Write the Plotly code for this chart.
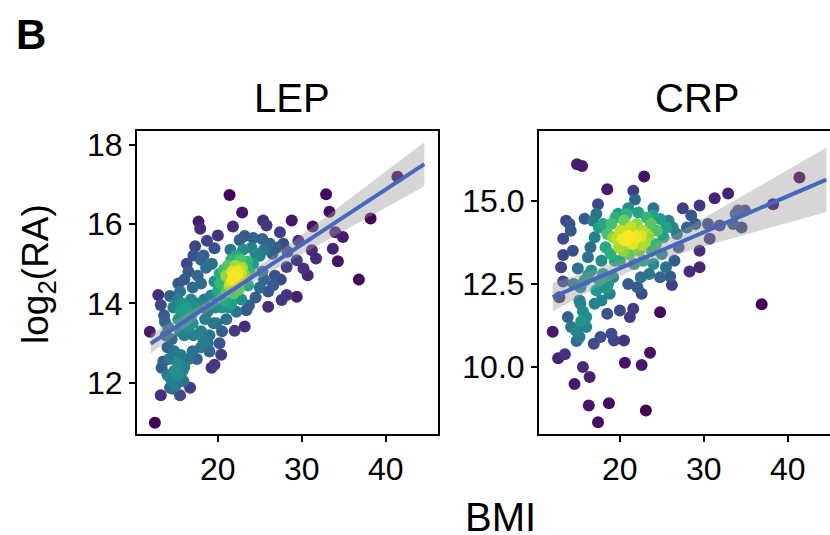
import numpy as np
import plotly.graph_objects as go

# ---------------- data ----------------
BMI_RANGE = [12.0, 44.6]          # BMI range of the cohort (shared x scale)

lep_points = [
    # sparse points
    (12.5, 11.0), (13.2, 11.69), (15.5, 11.69), (11.9, 13.29), (12.9, 14.21), (13.2, 13.96),
    (14.3, 14.19), (15.3, 14.5), (21.4, 16.73), (22.9, 16.29), (21.8, 15.94), (17.7, 16.06),
    (17.9, 15.88), (20.0, 15.71), (18.7, 15.58), (17.3, 15.44), (19.6, 15.39), (17.1, 15.21),
    (18.3, 15.21), (25.4, 16.09), (25.8, 15.96), (28.8, 16.09), (27.4, 15.79), (31.3, 15.94),
    (32.9, 16.75), (33.3, 16.31), (38.2, 16.14), (41.4, 17.19), (36.8, 14.6), (34.3, 15.06),
    (28.2, 14.21), (29.4, 14.17), (27.6, 14.09), (26.0, 13.92), (23.4, 13.83), (23.2, 13.42),
    (22.0, 13.31), (22.2, 13.79), (19.25, 12.38), (19.6, 12.46), (20.4, 12.71), (19.0, 12.79),
    (16.7, 11.88), (15.9, 12.04), (14.3, 11.88), (13.5, 12.54), (13.3, 12.38), (13.7, 13.54),
    # moderately dense
    (33.7, 15.38), (34.9, 15.67), (34.0, 15.79), (31.2, 15.34), (31.7, 15.13), (30.7, 14.71),
    (30.2, 14.88), (29.4, 15.09), (29.6, 15.58), (28.2, 14.92), (26.6, 14.46), (25.0, 14.4),
    (24.5, 14.15), (25.5, 14.6), (21.6, 14.0), (22.8, 14.1), (23.7, 13.95), (24.2, 15.65),
    (23.2, 15.7), (22.6, 15.6), (25.3, 15.62),
    (14.0, 12.2), (14.4, 12.1), (14.8, 12.3), (14.2, 12.6), (14.8, 12.8), (15.2, 12.5),
    (15.6, 12.7), (16.0, 12.4), (16.5, 12.6), (17.0, 12.8), (17.5, 12.6), (18.0, 12.9),
    (18.8, 13.0), (14.0, 12.9), (13.8, 13.2), (14.5, 13.1), (15.0, 11.95), (14.6, 11.85),
    (15.3, 12.2), (15.8, 12.3),
    (15.5, 14.3), (16.0, 14.6), (16.5, 14.8), (17.0, 14.4), (17.6, 14.7), (16.3, 15.0),
    (18.0, 14.5), (18.6, 14.9), (19.3, 15.0), (16.8, 14.1), (18.0, 15.1),
    (13.6, 13.7), (14.1, 13.4), (14.7, 13.9), (15.2, 14.1),
    (20.5, 13.3), (21.0, 13.6), (20.2, 13.0), (21.3, 13.9), (19.8, 13.5),
    # cluster around BMI 16
    (15.3, 13.6), (15.6, 13.8), (15.9, 13.5), (16.2, 13.9), (16.5, 13.4), (16.8, 13.7),
    (15.5, 13.3), (16.0, 13.2), (17.0, 13.5), (17.3, 13.9), (15.8, 14.0),
    (16.1, 13.75), (17.1, 13.2),
    (18.0, 13.3), (18.5, 13.6), (19.0, 13.2), (19.5, 13.5), (18.3, 13.05), (18.8, 13.8),
    (19.7, 13.9), (17.7, 14.0), (18.4, 14.1), (19.2, 14.2),
    # densest cluster around BMI 22
    (20.0, 14.3), (20.3, 14.5), (20.6, 14.2), (21.0, 14.7), (21.4, 14.45), (21.8, 14.6),
    (22.0, 14.65), (22.3, 14.8), (22.6, 14.55), (22.9, 14.9), (23.2, 14.7), (21.2, 14.95),
    (20.7, 14.85), (21.6, 15.1), (22.2, 15.2), (23.5, 15.05), (23.8, 14.8), (24.2, 15.0),
    (24.5, 15.25), (22.5, 14.35), (21.9, 14.25), (20.9, 14.05), (20.2, 14.75), (19.6, 14.55),
    (23.0, 15.35), (21.5, 15.35), (24.0, 15.4), (22.7, 15.1), (21.1, 14.3), (20.5, 13.9),
    (23.6, 14.45), (22.1, 14.95), (21.7, 14.8), (22.8, 14.7), (22.2, 14.55), (21.9, 14.7),
    (22.4, 14.62), (21.6, 14.52), (22.6, 14.85),
    (25.5, 15.35), (26.2, 15.5), (27.0, 15.4), (27.8, 15.5), (25.0, 15.2), (26.5, 15.25),
    (28.3, 15.3), (26.0, 14.3), (25.3, 14.8), (26.8, 14.7), (27.5, 14.6),
]

crp_points = [
    # sparse points
    (14.9, 16.1), (15.5, 16.05), (22.9, 15.73), (18.5, 15.35), (21.6, 15.3), (21.8, 15.04),
    (17.4, 14.9), (21.0, 14.78), (19.8, 14.61), (27.5, 14.78), (29.5, 14.86), (31.3, 15.08),
    (32.9, 15.22), (28.5, 14.56), (38.25, 14.9), (41.4, 15.7), (29.5, 13.5), (29.5, 13.0),
    (28.3, 12.87), (26.0, 12.72), (26.2, 12.47), (36.9, 11.89), (24.8, 11.65), (23.6, 10.43),
    (22.6, 10.06), (20.6, 10.13), (23.1, 8.69), (18.7, 8.91), (16.3, 8.84), (17.4, 8.34),
    (12.0, 11.06), (12.65, 10.26), (13.45, 10.38), (19.0, 11.0), (19.3, 10.8), (20.5, 10.8),
    (17.7, 10.9), (16.9, 10.7), (13.25, 12.57), (13.25, 13.37), (13.25, 13.86), (14.0, 14.3),
    (13.6, 14.4), (14.15, 14.1), (14.4, 13.5), (15.0, 12.96), (15.8, 14.46), (15.3, 12.4),
    (20.0, 11.7), (21.2, 11.5), (21.6, 11.75), (13.0, 13.0), (12.8, 12.1), (13.8, 11.5),
    (14.2, 11.2),
    # moderately dense
    (24.0, 14.78), (34.1, 14.71), (34.9, 14.71), (33.5, 14.3), (34.5, 14.2), (31.9, 14.26),
    (30.7, 13.86), (14.6, 9.49), (15.6, 10.0), (16.4, 9.7), (22.1, 12.4), (22.6, 12.2),
    (16.2, 13.3), (17.0, 11.9), (17.8, 12.0), (18.5, 11.6), (27.0, 13.6), (28.0, 14.2),
    (26.5, 13.2), (25.5, 13.0), (24.8, 12.7), (30.5, 14.3), (29.0, 14.3), (23.5, 12.8),
    (22.5, 12.7), (21.0, 12.5), (16.0, 11.2), (15.2, 12.0), (14.5, 12.5), (15.8, 12.6),
    (17.2, 12.3),
    (14.85, 10.78), (14.85, 11.07), (15.4, 11.37), (15.6, 11.67), (15.2, 10.9), (16.0, 11.5),
    (15.3, 11.9),
    (16.8, 14.4), (17.2, 14.6), (16.6, 12.9), (16.2, 12.75), (17.5, 14.2), (17.0, 13.9),
    (16.5, 13.6), (17.8, 13.2), (18.0, 12.8), (18.6, 12.5), (19.2, 12.7), (17.6, 12.6),
    (33.8, 14.6), (25.5, 14.2), (26.8, 14.0), (24.3, 13.7), (25.0, 13.4), (24.0, 13.1),
    # dense cluster around BMI 21
    (18.4, 12.37), (18.8, 12.2), (19.6, 13.86), (20.4, 13.5), (22.6, 13.68), (19.2, 13.9),
    (19.9, 13.6), (20.1, 14.1), (20.7, 13.8), (21.1, 13.4), (21.5, 13.7), (21.9, 13.9),
    (22.3, 13.5), (23.0, 13.75), (23.4, 13.95), (21.3, 14.2), (22.0, 14.3), (22.7, 14.1),
    (23.7, 14.3), (24.4, 14.1), (24.8, 14.45), (23.2, 14.5), (20.5, 14.4), (19.0, 14.3),
    (18.5, 14.0), (18.9, 13.4), (20.0, 13.2), (21.7, 13.1), (22.8, 13.2), (23.8, 13.5),
    (25.2, 13.9), (25.8, 14.4), (26.3, 14.2), (19.5, 14.5), (20.8, 14.6), (22.2, 14.65),
    (23.9, 14.55), (21.0, 13.95), (20.3, 13.85), (22.5, 13.95), (19.4, 13.2), (18.3, 13.6),
    (18.0, 14.3),
]

panel_titles = ["LEP", "CRP"]
lep_yticks = [12, 14, 16, 18]
crp_yticks = [10.0, 12.5, 15.0]
crp_yticklabels = ["10.0", "12.5", "15.0"]
bmi_ticks = [20, 30, 40]

# ---------------- helpers ----------------
W, H = 830, 535
FONT = "Liberation Sans, Arial, Helvetica, sans-serif"


def density(x, y, bx, by):
    dx = (x[:, None] - x[None, :]) / bx
    dy = (y[:, None] - y[None, :]) / by
    return np.exp(-0.5 * (dx ** 2 + dy ** 2)).sum(axis=1)


def lm_band(x, y, xs):
    n = len(x)
    X = np.column_stack([np.ones(n), x])
    beta = np.linalg.lstsq(X, y, rcond=None)[0]
    resid = y - X @ beta
    s2 = resid @ resid / (n - 2)
    XtXi = np.linalg.inv(X.T @ X)
    Xs = np.column_stack([np.ones(len(xs)), xs])
    yhat = Xs @ beta
    se = np.sqrt(s2 * np.einsum("ij,jk,ik->i", Xs, XtXi, Xs))
    return yhat, yhat - 1.97 * se, yhat + 1.97 * se


fig = go.Figure()

panels = [
    (lep_points, "x", "y", 1.25, 0.31),
    (crp_points, "x2", "y2", 1.25, 0.38),
]
xs = np.linspace(BMI_RANGE[0], BMI_RANGE[1], 100)
for pts, xa, ya, bx, by in panels:
    x = np.array([p[0] for p in pts])
    y = np.array([p[1] for p in pts])
    d = density(x, y, bx, by)
    order = np.argsort(d)
    fig.add_trace(go.Scatter(
        x=x[order], y=y[order], mode="markers", xaxis=xa, yaxis=ya,
        marker=dict(size=12, color=d[order], colorscale="Viridis",
                    cmin=d.min(), cmax=d.max(), line=dict(width=0)),
        showlegend=False, hoverinfo="skip"))
    yhat, lo, hi = lm_band(x, y, xs)
    fig.add_trace(go.Scatter(
        x=np.concatenate([xs, xs[::-1]]), y=np.concatenate([hi, lo[::-1]]),
        xaxis=xa, yaxis=ya, fill="toself", fillcolor="rgba(153,153,153,0.4)",
        line=dict(width=0), mode="lines", showlegend=False, hoverinfo="skip"))
    fig.add_trace(go.Scatter(
        x=xs, y=yhat, xaxis=xa, yaxis=ya, mode="lines",
        line=dict(color="#4567BD", width=4), showlegend=False, hoverinfo="skip"))

# x range: ggplot style 5% expansion of the BMI range
span = BMI_RANGE[1] - BMI_RANGE[0]
xr = [BMI_RANGE[0] - 0.05 * span, BMI_RANGE[1] + 0.05 * span]
p1 = (137, 438)
p2_left = 539
panel_w = p1[1] - p1[0]
vis = (W - p2_left) / panel_w
xr2 = [xr[0], xr[0] + (xr[1] - xr[0]) * vis]

top, bot = 128, 433
ydom = [(H - bot) / H, (H - top) / H]

axis_common = dict(
    showgrid=False, zeroline=False, showline=True, linecolor="black", linewidth=2,
    ticks="outside", ticklen=6, tickwidth=2, tickcolor="black",
    tickfont=dict(family=FONT, size=32, color="black"))

fig.update_layout(
    width=W, height=H, margin=dict(l=0, r=0, t=0, b=0),
    paper_bgcolor="white", plot_bgcolor="white",
    xaxis=dict(domain=[p1[0] / W, p1[1] / W], range=xr, tickvals=bmi_ticks,
               mirror=True, anchor="y", **axis_common),
    yaxis=dict(domain=ydom, range=[10.72, 18.34], tickvals=lep_yticks,
               mirror=True, anchor="x", **axis_common),
    xaxis2=dict(domain=[p2_left / W, 1.0], range=xr2, tickvals=bmi_ticks,
                mirror=True, anchor="y2", **axis_common),
    yaxis2=dict(domain=ydom, range=[7.99, 17.1], tickvals=crp_yticks,
                ticktext=crp_yticklabels, mirror=False, anchor="x2", **axis_common),
)

ann = [
    dict(text="<b>B</b>", x=31 / W, y=1 - 31 / H, font=dict(size=42)),
    dict(text=panel_titles[0], x=292 / W, y=1 - 95 / H, font=dict(size=40)),
    dict(text=panel_titles[1], x=697 / W, y=1 - 95 / H, font=dict(size=40)),
    dict(text="BMI", x=500 / W, y=1 - 517 / H, font=dict(size=40)),
    dict(text="log<sub>2</sub>(RA)", x=38 / W, y=1 - 272 / H, font=dict(size=37),
         textangle=-90),
]
for a in ann:
    a.update(xref="paper", yref="paper", showarrow=False, xanchor="center",
             yanchor="middle")
    a["font"].update(family=FONT, color="black")
fig.update_layout(annotations=ann)

fig.write_html("out.html", config={"displayModeBar": False},
               post_script="document.body.style.margin='0px';document.body.style.overflow='hidden';")
